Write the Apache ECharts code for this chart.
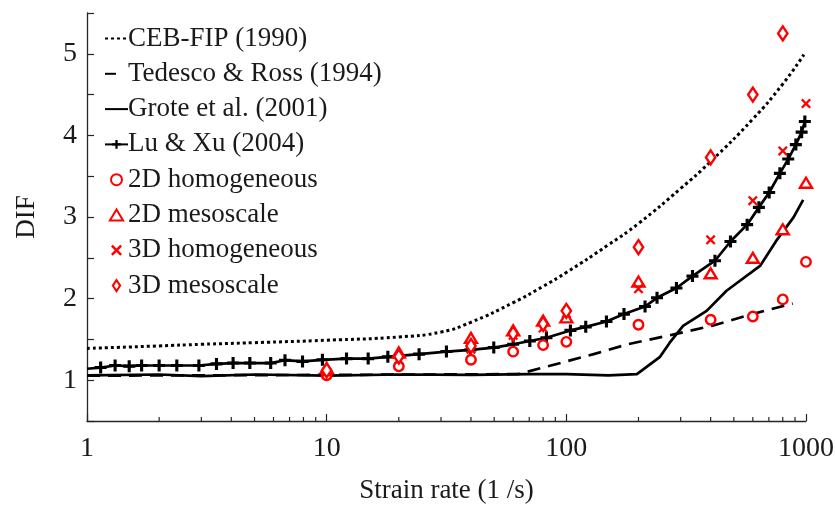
<!DOCTYPE html>
<html>
<head>
<meta charset="utf-8">
<script src="https://cdn.jsdelivr.net/npm/echarts@6/dist/echarts.min.js"></script>
<style>
html,body{margin:0;padding:0;background:#fff;}
#chart{width:835px;height:506px;}
</style>
</head>
<body>
<div id="chart"></div>
<script>
// ---- data ----
const cebRate = [1, 2, 3, 5, 10, 20, 30, 40, 60, 80, 100, 150, 200, 300, 400, 600, 800, 980];
const cebDif  = [1.39, 1.42, 1.44, 1.46, 1.49, 1.53, 1.59, 1.71, 1.95, 2.15, 2.32, 2.66, 2.92, 3.35, 3.68, 4.2, 4.63, 4.99];

const tedRate = [1, 10, 30, 63, 100, 130, 180, 290, 410, 580, 880];
const tedDif  = [1.055, 1.065, 1.07, 1.075, 1.23, 1.32, 1.44, 1.57, 1.67, 1.80, 1.94];

const groteRate = [1, 2, 3, 5, 10, 20, 40, 70, 100, 150, 197, 246, 270, 307, 385, 466, 643, 752, 887, 973];
const groteDif  = [1.06, 1.07, 1.05, 1.07, 1.055, 1.07, 1.065, 1.075, 1.075, 1.06, 1.075, 1.286, 1.46, 1.666, 1.85, 2.096, 2.40, 2.71, 2.995, 3.21];

const luRate = [1, 1.14, 1.31, 1.5, 1.69, 2.0, 2.37, 2.93, 3.47, 4.07, 4.78, 5.84, 6.7, 7.93, 9.6, 12.1, 14.9, 18.0, 24.3, 31.6, 39.8, 49.8, 60, 70.4, 82.6, 104, 120.5, 147, 174, 213, 239, 288, 336, 417, 484, 568, 636, 702, 778, 843, 907, 959, 989];
const luDif  = [1.14, 1.155, 1.18, 1.172, 1.18, 1.18, 1.18, 1.18, 1.20, 1.21, 1.21, 1.21, 1.245, 1.23, 1.25, 1.265, 1.265, 1.286, 1.319, 1.351, 1.372, 1.40, 1.44, 1.48, 1.52, 1.61, 1.654, 1.719, 1.81, 1.903, 2.01, 2.13, 2.276, 2.464, 2.70, 2.906, 3.118, 3.30, 3.535, 3.71, 3.887, 4.04, 4.17];

const simRate = [10, 20, 40, 60, 80, 100, 200, 400, 600, 800, 1000];
const dif2DHomogeneous = [1.06, 1.17, 1.25, 1.35, 1.43, 1.47, 1.68, 1.74, 1.78, 1.99, 2.45];
const dif2DMesoscale   = [1.15, 1.34, 1.52, 1.61, 1.73, 1.77, 2.21, 2.31, 2.50, 2.85, 3.42];
const dif3DHomogeneous = [1.10, 1.25, 1.38, 1.55, 1.64, 1.82, 2.12, 2.72, 3.20, 3.81, 4.39];
const dif3DMesoscale   = [1.12, 1.29, 1.42, 1.57, 1.69, 1.85, 2.63, 3.73, 4.50, 5.25, null];

const xMinorTicks = [2, 3, 4, 5, 6, 7, 8, 9, 20, 30, 40, 50, 60, 70, 80, 90, 200, 300, 400, 500, 600, 700, 800, 900];
const yTickLabels = ['1', '2', '3', '4', '5'];

const seriesNames = ['CEB-FIP (1990)', 'Tedesco & Ross (1994)', 'Grote et al. (2001)', 'Lu & Xu (2004)',
  '2D homogeneous', '2D mesoscale', '3D homogeneous', '3D mesoscale'];

// ---- build ----
const zip = (xs, ys) => xs.map((x, i) => [x, ys[i]]).filter(p => p[1] !== null);
const FONT = '"Liberation Serif", "Times New Roman", serif';
const RED = '#ff0000';
const TXT = '#1a1a1a';
const plusPath = 'path://M3.7,0H6.3V3.7H10V6.3H6.3V10H3.7V6.3H0V3.7H3.7Z';
const crossPath = 'path://M0,1.6L1.6,0L5,3.4L8.4,0L10,1.6L6.6,5L10,8.4L8.4,10L5,6.6L1.6,10L0,8.4L3.4,5Z';
const triPath = 'path://M0,10L6,0L12,10Z';
const diaPath = 'path://M4,0L8,6L4,12L0,6Z';

const hollow = {color: '#ffffff', borderColor: RED, borderWidth: 2.4, opacity: 1};
const noSymbol = {opacity: 0};

const legendData = seriesNames.map((n, i) => {
  if (i === 1) return {name: n, itemStyle: noSymbol, lineStyle: {type: [11, 30]}};
  if (i < 3) return {name: n, itemStyle: noSymbol};
  return {name: n};
});

const chart = echarts.init(document.getElementById('chart'), null, {renderer: 'canvas'});
chart.setOption({
  animation: false,
  backgroundColor: '#fff',
  grid: {left: 87, right: 29, top: 13, bottom: 85, containLabel: false, outerBoundsMode: 'none'},
  legend: {
    orient: 'vertical', left: 99, top: 20,
    itemWidth: 23, itemHeight: 11, itemGap: 8.3,
    data: legendData,
    textStyle: {fontFamily: FONT, fontSize: 27, color: TXT, lineHeight: 27, padding: [0, 0, 0, -5]},
    selectedMode: false
  },
  xAxis: {
    type: 'log', logBase: 10, min: 1, max: 1000,
    name: 'Strain rate (1 /s)', nameLocation: 'middle', nameGap: 56,
    nameTextStyle: {fontFamily: FONT, fontSize: 27, color: TXT},
    axisLine: {lineStyle: {color: '#262626', width: 1.3}},
    axisTick: {inside: true, length: 7, lineStyle: {color: '#262626', width: 1.2}},
    axisLabel: {fontFamily: FONT, fontSize: 28, color: TXT, margin: 14, formatter: v => String(v)},
    splitLine: {show: false}
  },
  yAxis: {
    type: 'value', min: 0.5, max: 5.5, interval: 0.5,
    name: 'DIF', nameLocation: 'middle', nameGap: 47,
    nameTextStyle: {fontFamily: FONT, fontSize: 27, color: TXT},
    axisLine: {show: true, lineStyle: {color: '#262626', width: 1.3}},
    axisTick: {show: true, inside: true, length: 7, lineStyle: {color: '#262626', width: 1.2}},
    axisLabel: {fontFamily: FONT, fontSize: 28, color: TXT, margin: 10,
      formatter: v => (yTickLabels.indexOf(String(v)) >= 0 ? String(v) : '')},
    splitLine: {show: false}
  },
  series: [
    {name: seriesNames[0], type: 'line', data: zip(cebRate, cebDif), symbol: 'none', smooth: true,
     lineStyle: {color: '#000', width: 3, type: [3, 3]}, itemStyle: {color: '#000'}, z: 2},
    {name: seriesNames[1], type: 'line', data: zip(tedRate, tedDif), symbol: 'none',
     lineStyle: {color: '#000', width: 2.7, type: [13, 8]}, itemStyle: {color: '#000'}, z: 2},
    {name: seriesNames[2], type: 'line', data: zip(groteRate, groteDif), symbol: 'none',
     lineStyle: {color: '#000', width: 2.7}, itemStyle: {color: '#000'}, z: 2},
    {name: seriesNames[3], type: 'line',
     data: zip(luRate, luDif).map((p, i) => i === 0 ? {value: p, symbol: 'none'} : p),
     symbol: plusPath, symbolSize: 12, showSymbol: true, symbolKeepAspect: true,
     lineStyle: {color: '#000', width: 2.7}, itemStyle: {color: '#000'}, z: 3},
    {name: seriesNames[4], type: 'scatter', data: zip(simRate, dif2DHomogeneous),
     symbol: 'circle', symbolSize: 9.5, itemStyle: hollow, z: 4},
    {name: seriesNames[5], type: 'scatter', data: zip(simRate, dif2DMesoscale),
     symbol: triPath, symbolSize: 12, symbolKeepAspect: true, itemStyle: hollow, z: 4},
    {name: seriesNames[6], type: 'scatter', data: zip(simRate, dif3DHomogeneous),
     symbol: crossPath, symbolSize: 10, symbolKeepAspect: true, itemStyle: {color: RED, opacity: 1}, z: 4},
    {name: seriesNames[7], type: 'scatter', data: zip(simRate, dif3DMesoscale),
     symbol: diaPath, symbolSize: 14, symbolKeepAspect: true, itemStyle: hollow, z: 4},
    {name: 'minorTicks', type: 'scatter', silent: true, data: xMinorTicks.map(v => [v, 0.5]),
     symbol: 'rect', symbolSize: [1.2, 4], symbolOffset: [0, -2], itemStyle: {color: '#262626', opacity: 1}, z: 1}
  ]
});
</script>
</body>
</html>
